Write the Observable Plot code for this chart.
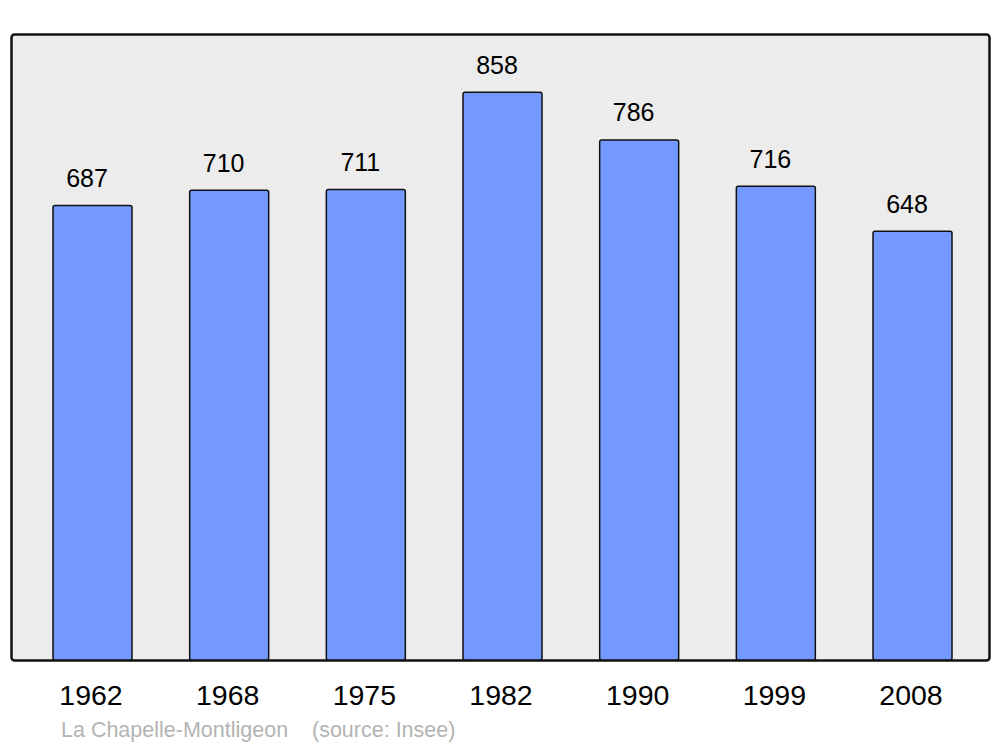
<!DOCTYPE html>
<html>
<head>
<meta charset="utf-8">
<script src="https://cdn.jsdelivr.net/npm/d3@7"></script>
<script src="https://cdn.jsdelivr.net/npm/@observablehq/plot@0.6"></script>
<style>
  html, body { margin: 0; padding: 0; background: #ffffff; }
  #chart svg { display: block; }
  #caption {
    font-family: "Liberation Sans", Arial, sans-serif;
    font-size: 21.5px;
    color: #b3b3b3;
    line-height: 30px;
    height: 35px;
    padding-top: 3px;
    padding-left: 61px;
    white-space: pre;
  }
</style>
</head>
<body>
<div id="chart"></div>
<div id="caption">La Chapelle-Montligeon    (source: Insee)</div>
<script>
const years = ["1962", "1968", "1975", "1982", "1990", "1999", "2008"];
const population = [687, 710, 711, 858, 786, 716, 648];

const data = years.map((y, i) => ({year: y, value: population[i]}));

const chart = Plot.plot({
  width: 1000,
  height: 712,
  marginLeft: 11,
  marginRight: 11,
  marginTop: 34,
  marginBottom: 52,
  style: {fontFamily: "'Liberation Sans', Arial, sans-serif", background: "#ffffff", overflow: "visible"},
  x: {domain: years, range: [53, 952], paddingInner: 0.422, paddingOuter: 0, round: false, label: null},
  y: {domain: [0, 946], axis: null},
  marks: [
    Plot.frame({fill: "#ececec", stroke: "#111111", strokeWidth: 2.5, rx: 3}),
    Plot.barY(data, {x: "year", y: "value", fill: "#7399ff", stroke: "#111111", strokeWidth: 1.5, rx: 2}),
    Plot.text(data, {x: "year", y: "value", text: d => String(d.value), dx: -6, dy: -19, lineAnchor: "bottom", fontSize: 25, fill: "#000000"}),
    Plot.axisX({tickSize: 0, tickPadding: 24, fontSize: 28.5, dx: -2, label: null, fill: "#000000"})
  ]
});
document.getElementById("chart").appendChild(chart);
</script>
</body>
</html>
